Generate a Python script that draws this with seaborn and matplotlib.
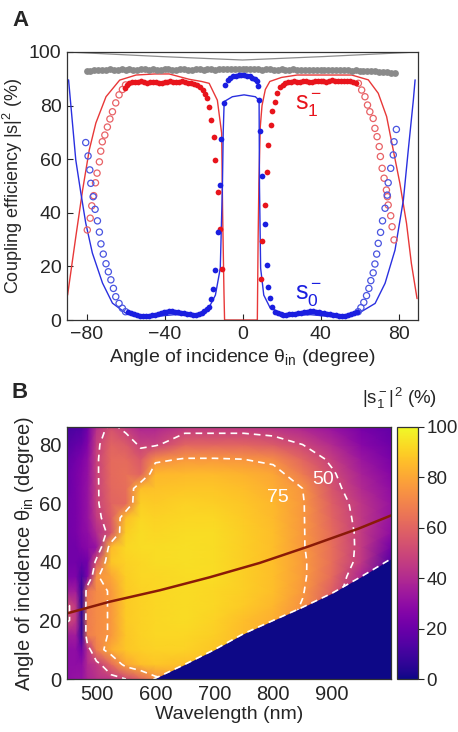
import numpy as np
import matplotlib
matplotlib.use("Agg")
import matplotlib.pyplot as plt
import seaborn as sns

# ---------------- panel A: coupling efficiency vs angle ----------------
gray_line_x = [-90, -42, 0, 42, 90]
gray_line_y = [100, 98.3, 97.0, 98.3, 100]

gray_dot_x = np.arange(-80, 80, 2)
gray_dot_y = [92.8, 93.0, 93.2, 93.3, 93.4, 93.3, 93.5, 93.4, 93.3, 93.5,
              93.4, 93.6, 93.4, 93.3, 93.5, 93.6, 93.4, 93.5, 93.3, 93.4,
              93.6, 93.5, 93.3, 93.4, 93.6, 93.5, 93.4, 93.3, 93.5, 93.6,
              93.4, 93.5, 93.6, 93.4, 93.5, 93.7, 93.6, 93.5, 93.7, 93.6,
              93.5, 93.6, 93.7, 93.5, 93.6, 93.4, 93.5, 93.6, 93.4, 93.3,
              93.5, 93.4, 93.3, 93.5, 93.4, 93.2, 93.4, 93.3, 93.2, 93.4,
              93.3, 93.2, 93.3, 93.1, 93.2, 93.3, 93.1, 93.2, 93.0, 93.1,
              93.0, 92.9, 93.0, 92.8, 92.9, 92.7, 92.6, 92.5, 92.3, 92.1]

# s1- theory (red line)
red_line = [(-89.7, 9.3), (-85.5, 31), (-82, 48.5), (-78.6, 63.4), (-75.2, 73.5),
            (-70, 83.3), (-63, 89.5), (-54.6, 91.4), (-45, 91.8), (-37.6, 91.8),
            (-27.3, 89.8), (-21, 89.0), (-17.1, 88.3), (-12.9, 82), (-10.7, 69.7),
            (-10.2, 40), (-9.5, 10), (-9.2, 0), (7.6, 0), (8.0, 30), (8.4, 51),
            (9.1, 72), (10, 80), (11.7, 86), (14, 89), (20, 90.5), (28, 91.4),
            (39, 91.4), (56, 91.4), (64.5, 89.6), (69.6, 84.6), (73.9, 75.9),
            (77.3, 63.4), (80.7, 51), (84.1, 36.1), (86.6, 21.1), (89.5, 8)]

# s0- theory (blue line)
blue_line = [(-89.2, 89.6), (-85.5, 59.7), (-82.9, 47.4), (-80.4, 36.2), (-77, 25),
             (-71.8, 13.8), (-66.7, 6.3), (-59.9, 2.6), (-55.6, 1.4), (-45, 1.3),
             (-35, 2.0), (-27, 1.8), (-22.4, 2.5), (-17.3, 4.5), (-13.9, 9.3),
             (-11.4, 19.3), (-10.3, 50), (-9.9, 70), (-9.4, 81.5), (-5.2, 83.3),
             (0.8, 84), (6.6, 83.3), (8.5, 82), (8.7, 50), (9.3, 19.3), (10.9, 9.3),
             (14.2, 4.5), (20.3, 2.5), (27, 1.8), (35, 2.0), (45, 1.3), (55, 1.4),
             (59.5, 2.5), (68, 6.2), (73.1, 13.7), (78.2, 26.1), (82.5, 44.8),
             (85, 63.4), (87.6, 82), (88.5, 89.6)]

# s1- measured, filled
red_dots = [(-60.4, 86.5), (-59.2, 87.6), (-58, 88.3), (-56.5, 88.7), (-55, 88.9),
            (-53.5, 88.8), (-52, 89.0), (-50.5, 88.8), (-49, 88.6), (-47.5, 88.7),
            (-46, 88.9), (-44.5, 88.8), (-43, 88.6), (-41.5, 88.5), (-40, 88.7),
            (-38.5, 88.9), (-37, 89.0), (-35.5, 88.8), (-34, 88.7), (-32.5, 88.9),
            (-31, 89.1), (-29.5, 88.8), (-28, 88.6), (-26.5, 88.4), (-25, 88.0),
            (-23.5, 87.6), (-22, 87.0), (-20.5, 85.8), (-19.2, 84.4), (-18, 82.7),
            (-17.1, 79.4), (-16, 74.8), (-14.8, 68.2), (-13.9, 59.7), (-12.4, 47.6),
            (-11.4, 33.8), (-10.3, 19.0),
            (9.4, 15.3), (10.2, 29.6), (11.5, 42.9), (12.4, 55.4), (13.3, 65.3),
            (14.4, 72.8), (15.3, 77.8), (16.5, 81.5), (17.6, 84.6), (19.1, 86.8),
            (20.6, 87.8), (22, 88.4), (23.5, 88.7), (25, 88.9), (26.5, 89.0),
            (28, 88.8), (29.5, 88.9), (31, 89.1), (32.5, 89.0), (34, 88.8),
            (35.5, 88.9), (37, 89.2), (38.5, 89.3), (40, 89.1), (41.5, 89.0),
            (43, 88.9), (44.5, 89.2), (46, 89.4), (47.5, 89.3), (49, 89.1),
            (50.5, 89.2), (52, 89.3), (53.5, 89.1), (55, 89.0), (56.5, 88.8), (58, 88.6)]

# s0- measured, filled
blue_dots = [(-58.5, 3.0), (-57, 2.5), (-55.5, 2.1), (-54, 1.8), (-52.5, 1.6), (-51, 1.5),
             (-49.5, 1.5), (-48, 1.6), (-46.5, 1.8), (-45, 2.0), (-43.5, 2.3), (-42, 2.6),
             (-40.5, 2.9), (-39, 3.1), (-37.5, 3.2), (-36, 3.2), (-34.5, 3.1), (-33, 2.9),
             (-31.5, 2.7), (-30, 2.5), (-28.5, 2.3), (-27, 2.1), (-25.5, 2.0), (-24, 2.0),
             (-22.5, 2.2), (-21, 2.6), (-19.5, 3.2), (-18.3, 4.0), (-17.3, 5.0), (-16, 7.7),
             (-15.1, 11.4), (-13.9, 18.7), (-12.7, 33), (-11.7, 50.4), (-10.8, 67.4),
             (-9.6, 81), (-9, 87.7), (-7.6, 89.6), (-6.2, 90.3), (-4.8, 90.9), (-3.4, 91.2),
             (-2, 91.4), (-0.6, 91.5), (0.8, 91.4), (2.2, 91.2), (3.6, 90.9), (5, 90.4),
             (6.3, 89.8), (7.5, 89), (7.9, 87.3), (8.3, 82.1), (9.1, 70.5), (9.9, 53.7),
             (11.5, 35.7), (12.4, 20.5), (13.3, 12.4), (14.2, 8.1), (15, 5), (16.7, 3.1),
             (18, 2.5), (19.5, 2.2), (21, 2.0), (22.5, 2.0), (24, 2.1), (25.5, 2.2),
             (27, 2.4), (28.5, 2.6), (30, 2.8), (31.5, 3.0), (33, 3.1), (34.5, 3.2),
             (36, 3.2), (37.5, 3.1), (39, 3.0), (40.5, 2.8), (42, 2.6), (43.5, 2.3),
             (45, 2.1), (46.5, 1.9), (48, 1.7), (49.5, 1.6), (51, 1.5), (52.5, 1.6),
             (54, 1.8), (55.5, 2.1), (57, 2.5), (58.5, 3.0)]

# measured at large angles, open circles
red_open = [(-60, 87.7), (-61.6, 86.0), (-63.3, 84), (-65, 81), (-66.7, 77.7), (-68, 75),
            (-69.3, 72), (-70.6, 69), (-71.9, 66.5), (-72.7, 63), (-73.4, 59),
            (-74.6, 54.8), (-75.4, 51.2), (-76.3, 46.4), (-77.3, 42.6), (-78.1, 38),
            (-79.6, 33.6),
            (59.4, 88.3), (61.1, 85.8), (62.8, 83.3), (64.1, 80.2), (65.3, 77.7),
            (67, 75.2), (67.9, 71.5), (69, 68.4), (70.1, 64.7), (70.7, 61), (71.6, 56.6),
            (72.6, 52.9), (73.8, 48.5), (74.3, 46), (74.7, 42.9), (76, 38.9),
            (76.7, 34.8), (77.7, 29.9)]
blue_open = [(-80.4, 66.2), (-79.2, 61.2), (-78.3, 56), (-77.8, 51), (-76.6, 46),
             (-75.6, 41.3), (-74.4, 37), (-73.4, 32.8), (-72.6, 28.4), (-71.4, 24.6),
             (-70, 21), (-68.8, 18), (-67.5, 15), (-66.2, 11.8), (-65, 8.7),
             (-63.3, 6.2), (-61.6, 4.4), (-60, 3.1),
             (59.3, 3.1), (60.7, 4.6), (62.2, 6.6), (63.6, 9.1), (64.8, 11.8),
             (65.8, 14.7), (67, 17.6), (67.9, 20.9), (68.8, 24.6), (69.6, 28.6),
             (70.8, 32.7), (71.8, 37), (73.1, 41.7), (74.2, 46.6), (74.7, 51.2),
             (76, 56.6), (77.3, 61.6), (77.7, 66.5), (78.9, 71.1)]

# ---------------- panel B: |s1-|^2 map, wavelength x angle ----------------
lam_cols = [450, 465, 475, 485, 500, 525, 550, 575, 600, 650, 700, 750, 800, 850, 900, 950, 1000]
theta_rows = [0, 5, 10, 15, 20, 25, 30, 35, 40, 45, 50, 55, 60, 65, 70, 75, 80, 85, 90]
# cells just under the cutoff keep the edge value (they sit under the cutoff mask)
coupling_map = np.array([
    [30, 32, 32, 38, 42, 45, 50, 60, 72, 80, 0, 0, 0, 0, 0, 0, 0],
    [30, 30, 30, 40, 45, 62, 80, 86, 88, 86, 85, 0, 0, 0, 0, 0, 0],
    [30, 30, 22, 42, 68, 82, 88, 90, 91, 91, 88, 85, 0, 0, 0, 0, 0],
    [35, 35, 8, 68, 72, 76, 88, 91, 92, 92, 90, 85, 82, 0, 0, 0, 0],
    [52, 45, 6, 68, 72, 76, 89, 91, 92, 93, 91, 86, 82, 72, 0, 0, 0],
    [52, 45, 6, 68, 72, 76, 89, 91, 92, 93, 92, 89, 84, 74, 56, 0, 0],
    [35, 35, 8, 66, 72, 76, 89, 91, 92, 93, 92, 90, 86, 76, 58, 35, 0],
    [25, 25, 12, 25, 74, 80, 90, 92, 92, 93, 93, 90, 86, 77, 62, 38, 15],
    [22, 22, 20, 22, 55, 88, 91, 92, 93, 94, 93, 90, 86, 77, 63, 45, 15],
    [22, 22, 26, 28, 32, 85, 92, 93, 93, 94, 93, 90, 86, 76, 63, 46, 22],
    [22, 24, 28, 30, 40, 55, 90, 93, 92, 93, 93, 90, 86, 76, 62, 46, 30],
    [22, 24, 28, 32, 46, 58, 86, 92, 91, 92, 92, 89, 85, 76, 60, 45, 32],
    [22, 24, 28, 32, 48, 60, 62, 90, 89, 91, 90, 88, 84, 76, 58, 44, 32],
    [20, 24, 28, 32, 48, 61, 63, 86, 87, 88, 88, 86, 82, 75, 55, 40, 30],
    [20, 24, 27, 31, 48, 62, 64, 60, 84, 85, 85, 83, 80, 67, 52, 37, 27],
    [18, 22, 25, 30, 48, 62, 62, 56, 72, 76, 76, 75, 72, 60, 47, 33, 24],
    [15, 18, 20, 26, 47, 60, 57, 48, 48, 60, 60, 60, 57, 50, 40, 28, 21],
    [12, 14, 15, 22, 43, 55, 48, 40, 40, 47, 47, 47, 45, 40, 33, 24, 18],
    [10, 12, 12, 18, 36, 46, 40, 35, 35, 40, 40, 40, 38, 34, 28, 20, 16],
])

cut_lam = [597, 650, 700, 750, 800, 850, 900, 950, 1000]
cut_theta = [0, 5, 10, 15.5, 20, 24.5, 29.3, 35, 41]

grating_lam = [450, 523, 608, 692, 777, 861, 946, 1000]
grating_theta = [22.4, 26.4, 30.3, 34.7, 39.6, 45.3, 51.4, 55.8]

# ---------------- style ----------------
sns.set_style("ticks")
plt.rcParams["font.family"] = ["Liberation Sans", "DejaVu Sans"]
plt.rcParams["mathtext.fontset"] = "custom"
plt.rcParams["mathtext.rm"] = "Liberation Sans"
plt.rcParams["mathtext.it"] = "Liberation Sans:italic"
plt.rcParams["axes.edgecolor"] = "#333333"
plt.rcParams["axes.linewidth"] = 0.9

RED = "#e8141c"
BLUE = "#1a1ee0"

fig = plt.figure(figsize=(4.58, 7.32), dpi=100)
axA = fig.add_axes([0.1463, 0.5628, 0.7664, 0.3662])
axB = fig.add_axes([0.1463, 0.0724, 0.7074, 0.3443])
cax = fig.add_axes([0.8668, 0.0724, 0.0459, 0.3443])

# ---------------- panel A ----------------
sns.lineplot(x=gray_line_x, y=gray_line_y, color="#8c8c8c", lw=0.9, ax=axA,
             sort=False, estimator=None)
sns.scatterplot(x=gray_dot_x, y=gray_dot_y, color="#8a8a8a", s=24, linewidth=0,
                ax=axA, zorder=3)

rl = np.array(red_line).T
bl = np.array(blue_line).T
sns.lineplot(x=rl[0], y=rl[1], color="#e83838", lw=1.0, ax=axA, sort=False, estimator=None)
sns.lineplot(x=bl[0], y=bl[1], color="#2a30e0", lw=1.0, ax=axA, sort=False, estimator=None)

ro = np.array(red_open).T
bo = np.array(blue_open).T
axA.scatter(ro[0], ro[1], s=20, facecolors="none", edgecolors="#e86266", linewidths=0.9, zorder=3)
axA.scatter(bo[0], bo[1], s=20, facecolors="none", edgecolors="#4a55e0", linewidths=0.9, zorder=3)

rd = np.array(red_dots).T
bd = np.array(blue_dots).T
sns.scatterplot(x=rd[0], y=rd[1], color=RED, s=17, linewidth=0, ax=axA, zorder=4)
sns.scatterplot(x=bd[0], y=bd[1], color=BLUE, s=17, linewidth=0, ax=axA, zorder=4)

axA.text(34, 80, r"$\mathrm{s}_1^-$", color=RED, fontsize=18, ha="center", va="center")
axA.text(34, 9, r"$\mathrm{s}_0^-$", color=BLUE, fontsize=18, ha="center", va="center")

axA.set_xlim(-90, 90)
axA.set_ylim(0, 100)
axA.set_xticks([-80, -40, 0, 40, 80])
axA.set_yticks([0, 20, 40, 60, 80, 100])
axA.tick_params(direction="in", length=4, width=0.8, labelsize=14, pad=4)
axA.set_xlabel(r"Angle of incidence θ$_{\mathrm{in}}$ (degree)", fontsize=14, labelpad=3)
axA.set_ylabel(r"Coupling efficiency |s|$^2$ (%)", fontsize=13, labelpad=3)

# ---------------- panel B ----------------
mesh = axB.pcolormesh(lam_cols, theta_rows, coupling_map, shading="gouraud",
                      cmap="plasma", vmin=0, vmax=100, rasterized=True, zorder=1)
axB.contour(lam_cols, theta_rows, coupling_map, levels=[50, 75], colors="white",
            linestyles=[(0, (4, 3))], linewidths=1.2, zorder=2)
axB.fill_between(cut_lam, 0, cut_theta, color=plt.cm.plasma(0.0), lw=0, zorder=3)
axB.plot(cut_lam, cut_theta, color="white", ls=(0, (4, 3)), lw=1.2, zorder=4)
sns.lineplot(x=grating_lam, y=grating_theta, color="#8a1a08", lw=1.8, ax=axB,
             sort=False, estimator=None, zorder=5)

axB.text(808, 62, "75", color="white", fontsize=14, ha="center", va="center", zorder=6)
axB.text(884, 68, "50", color="white", fontsize=14, ha="center", va="center", zorder=6)

axB.set_xlim(450, 1000)
axB.set_ylim(0, 86)
axB.set_xticks([500, 600, 700, 800, 900])
axB.set_yticks([0, 20, 40, 60, 80])
axB.tick_params(direction="in", length=5, width=0.8, color="#333333", labelsize=14.5, pad=4)
axB.set_xlabel("Wavelength (nm)", fontsize=14, labelpad=2)
axB.set_ylabel(r"Angle of incidence θ$_{\mathrm{in}}$ (degree)", fontsize=14.5, labelpad=2)
for sp in axB.spines.values():
    sp.set_zorder(7)

cb = fig.colorbar(mesh, cax=cax)
cb.set_ticks([0, 20, 40, 60, 80, 100])
cb.ax.tick_params(labelsize=13.5, length=4, width=0.8, direction="out", pad=2)
cb.outline.set_linewidth(0.9)
fig.text(0.872, 0.455, r"|s$_1^-$|$^2$ (%)", fontsize=13.5, ha="center", va="center")

fig.text(0.028, 0.987, "A", fontsize=16, fontweight="bold", va="top", ha="left")
fig.text(0.026, 0.478, "B", fontsize=16, fontweight="bold", va="top", ha="left")

fig.savefig("out.png", dpi=100)
